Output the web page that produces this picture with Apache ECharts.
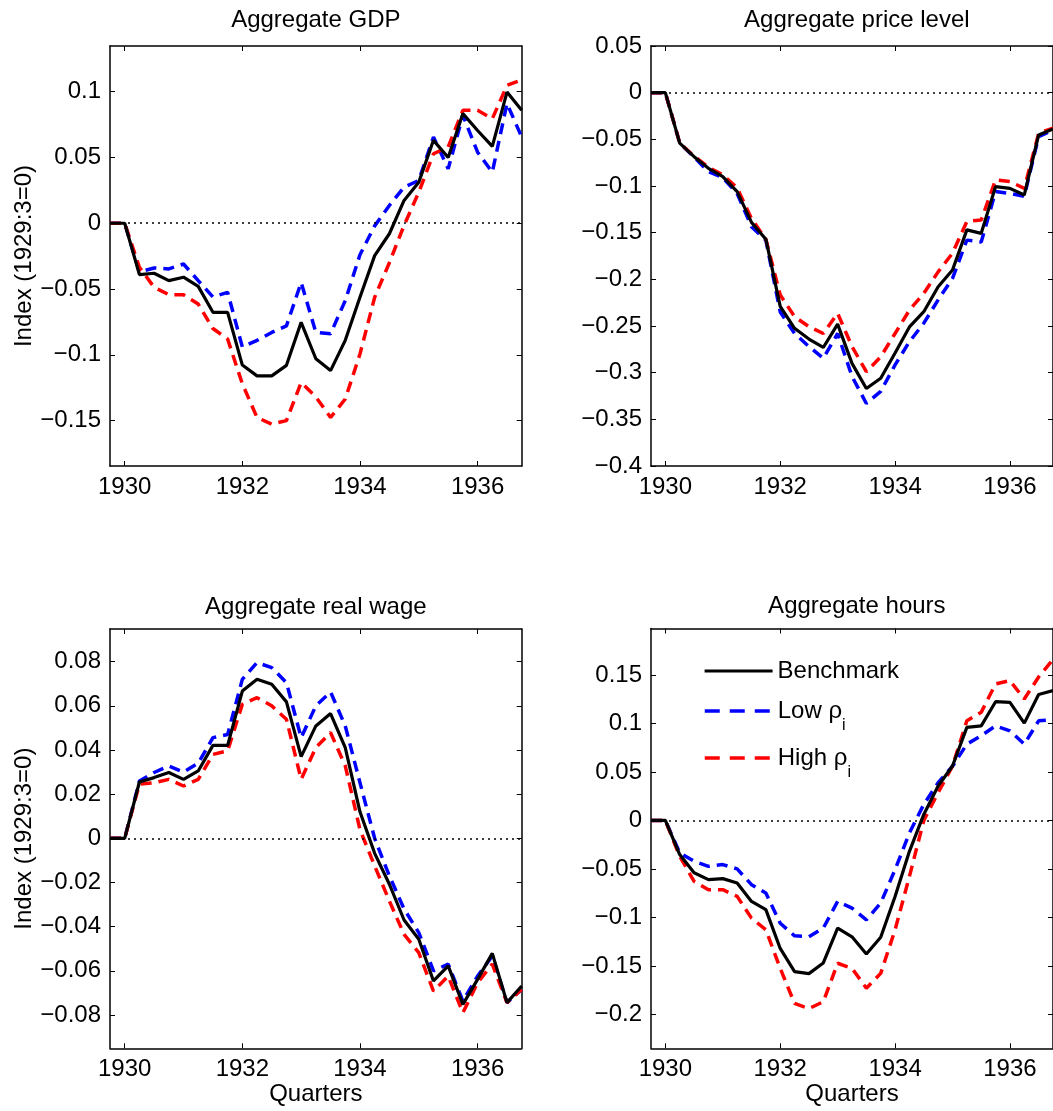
<!DOCTYPE html>
<html>
<head>
<meta charset="utf-8">
<script src="https://cdn.jsdelivr.net/npm/echarts@6/dist/echarts.min.js"></script>
<style>
html,body{margin:0;padding:0;background:#fff;overflow:hidden;}
#chart{width:1053px;height:1111px;}
</style>
</head>
<body>
<div id="chart"></div>
<script>
// ---- data ----
const quarters = [1929.75,1930,1930.25,1930.5,1930.75,1931,1931.25,1931.5,1931.75,1932,1932.25,1932.5,1932.75,1933,1933.25,1933.5,1933.75,1934,1934.25,1934.5,1934.75,1935,1935.25,1935.5,1935.75,1936,1936.25,1936.5,1936.75];
const seriesNames = ['Benchmark','Low ρi','High ρi'];
const panelTitles = ['Aggregate GDP','Aggregate price level','Aggregate real wage','Aggregate hours'];
const xTickValues = [1930,1932,1934,1936];
const xTickLabels = ['1930','1932','1934','1936'];

const gdpBench = [0,0,-0.039,-0.038,-0.0436,-0.041,-0.048,-0.0677,-0.0677,-0.1078,-0.116,-0.116,-0.108,-0.0753,-0.103,-0.112,-0.089,-0.0563,-0.0246,-0.008,0.0173,0.0312,0.063,0.050,0.0833,0.0705,0.0584,0.0997,0.0858];
const gdpLow   = [0,0,-0.037,-0.034,-0.0347,-0.031,-0.0436,-0.056,-0.0525,-0.094,-0.089,-0.083,-0.078,-0.045,-0.083,-0.084,-0.0588,-0.024,-0.002,0.0135,0.0274,0.0325,0.0655,0.0414,0.082,0.054,0.0388,0.091,0.0655];
const gdpHigh  = [0,0,-0.0335,-0.0487,-0.0543,-0.0543,-0.0614,-0.080,-0.088,-0.122,-0.1476,-0.1527,-0.150,-0.121,-0.132,-0.1476,-0.1336,-0.0994,-0.0563,-0.030,-0.0017,0.0236,0.0528,0.058,0.0858,0.0858,0.0794,0.1048,0.109];

const priceBench = [0,0,-0.054,-0.0686,-0.081,-0.090,-0.106,-0.139,-0.157,-0.229,-0.2525,-0.264,-0.273,-0.248,-0.29,-0.317,-0.306,-0.279,-0.251,-0.2347,-0.208,-0.19,-0.147,-0.1507,-0.1007,-0.1025,-0.1096,-0.0453,-0.039];
const priceLow   = [0,0,-0.054,-0.069,-0.0846,-0.091,-0.108,-0.1436,-0.158,-0.235,-0.258,-0.272,-0.2846,-0.258,-0.304,-0.333,-0.320,-0.2917,-0.2668,-0.247,-0.222,-0.199,-0.158,-0.160,-0.106,-0.108,-0.111,-0.047,-0.040];
const priceHigh  = [0,0,-0.054,-0.068,-0.080,-0.088,-0.102,-0.135,-0.157,-0.2168,-0.24,-0.2507,-0.258,-0.2364,-0.272,-0.299,-0.283,-0.258,-0.233,-0.215,-0.192,-0.172,-0.138,-0.1364,-0.0935,-0.0953,-0.1025,-0.0435,-0.038];

const wageBench = [0,0,0.0255,0.0275,0.0298,0.0267,0.0305,0.0421,0.0421,0.0667,0.072,0.0698,0.0618,0.037,0.0509,0.0565,0.0411,0.012,-0.0068,-0.0208,-0.037,-0.0457,-0.0646,-0.0578,-0.0752,-0.0639,-0.0521,-0.0744,-0.0669];
const wageLow   = [0,0,0.026,0.0298,0.0328,0.030,0.034,0.0456,0.047,0.072,0.0796,0.0773,0.0705,0.0456,0.060,0.0663,0.0509,0.0252,0,-0.017,-0.032,-0.0427,-0.060,-0.057,-0.0737,-0.0624,-0.0533,-0.0744,-0.0684];
const wageHigh  = [0,0,0.0245,0.0252,0.0267,0.0237,0.0267,0.038,0.0396,0.0607,0.0637,0.060,0.0539,0.0267,0.0411,0.0479,0.0328,0.004,-0.0125,-0.0284,-0.0435,-0.0518,-0.0692,-0.0624,-0.079,-0.0654,-0.057,-0.0744,-0.0684];

const hoursBench = [0,0,-0.0352,-0.054,-0.061,-0.060,-0.0645,-0.0835,-0.092,-0.132,-0.156,-0.158,-0.147,-0.111,-0.12,-0.1377,-0.1204,-0.0784,-0.0318,0.0062,0.0355,0.0562,0.096,0.0976,0.1225,0.1218,0.1004,0.130,0.134];
const hoursLow   = [0,0,-0.0334,-0.042,-0.0473,-0.0455,-0.050,-0.0662,-0.0748,-0.106,-0.119,-0.120,-0.111,-0.0835,-0.0904,-0.1025,-0.0852,-0.0507,-0.0128,0.0166,0.039,0.056,0.0787,0.0873,0.0976,0.0925,0.0787,0.1028,0.104];
const hoursHigh  = [0,0,-0.037,-0.0628,-0.0714,-0.0714,-0.0783,-0.1007,-0.1128,-0.1525,-0.1887,-0.194,-0.187,-0.1473,-0.1525,-0.173,-0.1577,-0.1128,-0.0577,0,0.0287,0.056,0.1028,0.1115,0.1408,0.1442,0.1253,0.148,0.166];

const gdpTickLabels   = ['\u22120.15','\u22120.1','\u22120.05','0','0.05','0.1'];
const priceTickLabels = ['\u22120.4','\u22120.35','\u22120.3','\u22120.25','\u22120.2','\u22120.15','\u22120.1','\u22120.05','0','0.05'];
const wageTickLabels  = ['\u22120.08','\u22120.06','\u22120.04','\u22120.02','0','0.02','0.04','0.06','0.08'];
const hoursTickLabels = ['\u22120.2','\u22120.15','\u22120.1','\u22120.05','0','0.05','0.1','0.15'];
const yAxisName = 'Index (1929:3=0)';
const xAxisName = 'Quarters';

// ---- layout / styling ----
const FONT = "'Liberation Sans', Arial, Helvetica, sans-serif";
const PW = 411.7;
const panels = [
  {left:110, top:46,  height:420, ymin:-0.1845, ymax:0.1347, ticks:gdpTickLabels,   data:[gdpBench,gdpLow,gdpHigh],     yname:true,  xname:false, tOff:38},
  {left:651, top:46,  height:420, ymin:-0.4,    ymax:0.05,   ticks:priceTickLabels, data:[priceBench,priceLow,priceHigh], yname:false, xname:false, tOff:38},
  {left:110, top:629, height:419.3, ymin:-0.0951, ymax:0.0948, ticks:wageTickLabels, data:[wageBench,wageLow,wageHigh],   yname:true,  xname:true, tOff:34},
  {left:651, top:628.5, height:419.8, ymin:-0.235, ymax:0.198, ticks:hoursTickLabels, data:[hoursBench,hoursLow,hoursHigh], yname:false, xname:true, tOff:34}
];
const colors = ['#000000','#0000ff','#ff0000'];
const toNum = s => parseFloat(s.replace('\u2212','-'));

const grid = [], xAxis = [], yAxis = [], series = [], title = [];
const axisLineStyle = {color:'#000', width:1.5};
const tickStyle = {color:'#000', width:1};
const labelStyle = {fontSize:24, color:'#000', fontFamily:FONT};

panels.forEach((p, i) => {
  grid.push({left:p.left, top:p.top, width:PW, height:p.height, containLabel:false});
  title.push({text:panelTitles[i], left:p.left + PW/2, textAlign:'center', top:p.top - p.tOff, padding:0,
    textStyle:{fontSize:24, fontWeight:'normal', color:'#000', fontFamily:FONT}});
  const yVals = p.ticks.map(toNum);
  const yFmt = v => { let best = 0; yVals.forEach((t,k)=>{ if (Math.abs(t-v) < Math.abs(yVals[best]-v)) best = k; }); return p.ticks[best]; };
  const xFmt = v => { const k = xTickValues.indexOf(v); return k >= 0 ? xTickLabels[k] : String(v); };
  ['bottom','top'].forEach(pos => {
    xAxis.push({type:'value', gridIndex:i, position:pos, min:1929.75, max:1936.75,
      axisLine:{onZero:false, lineStyle:axisLineStyle},
      axisTick:{inside:true, length:5, customValues:xTickValues, lineStyle:tickStyle},
      axisLabel:Object.assign({show:pos==='bottom', customValues:xTickValues, formatter:xFmt, margin:9}, labelStyle),
      splitLine:{show:false},
      name:(pos==='bottom' && p.xname) ? xAxisName : '', nameLocation:'middle', nameGap:29,
      nameTextStyle:labelStyle});
  });
  ['left','right'].forEach(pos => {
    yAxis.push({type:'value', gridIndex:i, position:pos, min:p.ymin, max:p.ymax,
      axisLine:{onZero:false, lineStyle:axisLineStyle},
      axisTick:{inside:true, length:5, customValues:yVals, lineStyle:tickStyle},
      axisLabel:Object.assign({show:pos==='left', customValues:yVals, formatter:yFmt, margin:9}, labelStyle),
      splitLine:{show:false},
      name:(pos==='left' && p.yname) ? yAxisName : '', nameLocation:'middle', nameGap:70,
      nameTextStyle:labelStyle});
  });
  // draw order: Low (blue), High (red), Benchmark (black) on top
  [1,2,0].forEach(s => {
    const ser = {type:'line', name:seriesNames[s], xAxisIndex:2*i, yAxisIndex:2*i,
      data:quarters.map((q,k)=>[q, p.data[s][k]]),
      symbol:'none', showSymbol:false, silent:true,
      lineStyle:{color:colors[s], width: s===0 ? 3.2 : 3.5, type: s===0 ? 'solid' : [11,7]},
      itemStyle:{color:colors[s]}, z: s===0 ? 4 : 3};
    if (s === 0) {
      ser.markLine = {silent:true, symbol:['none','none'], label:{show:false},
        lineStyle:{type:[2,4], color:'#000', width:1.5}, data:[{yAxis:0}], animation:false};
    }
    series.push(ser);
  });
});

const legendBase = {orient:'vertical', left:703, padding:0, itemWidth:68, itemHeight:14, selectedMode:false,
  itemStyle:{color:'rgba(0,0,0,0)', borderWidth:0, opacity:0},
  textStyle:{fontSize:24, color:'#000', fontFamily:FONT,
    rich:{t:{fontSize:24, color:'#000', fontFamily:FONT, lineHeight:46, verticalAlign:'middle'},
          s:{fontSize:16, color:'#000', fontFamily:FONT, verticalAlign:'bottom'}}},
  formatter: name => name === seriesNames[0] ? name : '{t|' + name.slice(0,-1) + '}{s|' + name.slice(-1) + '}'};
const legend = [
  Object.assign({}, legendBase, {data:[seriesNames[0]], top:659, lineStyle:{type:'solid', width:3.2, color:colors[0]}}),
  Object.assign({}, legendBase, {data:[seriesNames[1]], top:699, lineStyle:{type:[15,10], width:3.5, color:colors[1]}}),
  Object.assign({}, legendBase, {data:[seriesNames[2]], top:746, lineStyle:{type:[15,10], width:3.5, color:colors[2]}})
];

const chart = echarts.init(document.getElementById('chart'), null, {renderer:'canvas'});
chart.setOption({animation:false, backgroundColor:'#fff', title, grid, xAxis, yAxis, legend, series});
</script>
</body>
</html>
